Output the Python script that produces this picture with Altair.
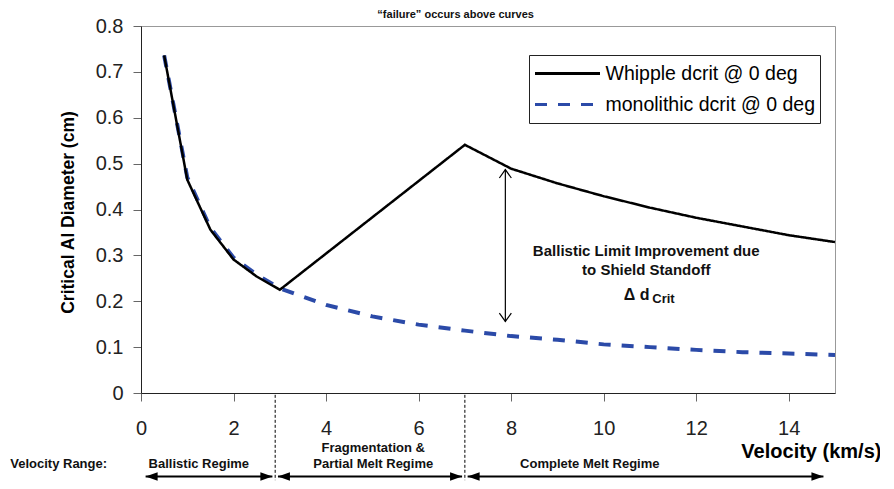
import altair as alt
import pandas as pd

# ---------------- data ----------------
series_names = ["Whipple dcrit @ 0 deg", "monolithic dcrit @ 0 deg"]
series_colors = ["#000000", "#2b4aa8"]

whipple_v = [0.5, 1, 1.5, 2, 2.5, 3, 7, 8, 9, 10, 11, 12, 13, 14, 15]
whipple_d = [0.736, 0.465, 0.356, 0.291, 0.254, 0.225, 0.541, 0.489, 0.457,
             0.429, 0.404, 0.382, 0.363, 0.344, 0.329]

mono_v = [0.5, 1, 1.5, 2, 2.5, 3, 4, 5, 6, 7, 8, 9, 10, 11, 12, 13, 14, 15]
mono_d = [0.736, 0.47, 0.36, 0.295, 0.258, 0.228, 0.192, 0.167, 0.149, 0.136,
          0.124, 0.116, 0.106, 0.100, 0.094, 0.089, 0.086, 0.083]

x_ticks = [0, 2, 4, 6, 8, 10, 12, 14]
y_ticks = [0, 0.1, 0.2, 0.3, 0.4, 0.5, 0.6, 0.7, 0.8]

regime_bounds = [2.9, 7.0]
regime_arrow_from = [0.1, 2.96, 7.06]
regime_arrow_to = [2.84, 6.94, 14.75]
regime_row1 = ["Fragmentation &"]
regime_row1_x = [5.02]
regime_row2 = ["Ballistic Regime", "Partial Melt Regime", "Complete Melt Regime"]
regime_row2_x = [1.25, 5.02, 9.7]

delta_x = 7.875
delta_top = 0.487
delta_bottom = 0.156

note_lines = ["Ballistic Limit Improvement due", "to Shield Standoff"]
note_y = [0.309, 0.268]
note_x = 10.92

FONT = "Liberation Sans"

xs = alt.Scale(domain=[0, 15], nice=False, zero=False)
ys = alt.Scale(domain=[0, 0.8], nice=False, zero=False)

legend = alt.Legend(
    title=None, orient="none", legendX=388, legendY=29,
    symbolType="stroke", symbolSize=4225, symbolStrokeWidth=3,
    clipHeight=28, rowPadding=3, padding=4.5, labelOffset=4,
    labelFont=FONT, labelFontSize=19.5, labelColor="#000000", labelLimit=400,
    strokeColor="#222222", fillColor="#ffffff",
)
color_enc = alt.Color("series:N", scale=alt.Scale(domain=series_names, range=series_colors), legend=legend)
dash_enc = alt.StrokeDash("series:N", scale=alt.Scale(domain=series_names, range=[[1, 0], [12, 11]]), legend=legend)

df_w = pd.DataFrame({"v": whipple_v, "d": whipple_d, "series": series_names[0]})
df_m = pd.DataFrame({"v": mono_v, "d": mono_d, "series": series_names[1]})

x_axis = alt.Axis(values=x_ticks, title=None, grid=False, labelFont=FONT, labelFontSize=20,
                  labelColor="#222222", tickSize=8, tickColor="#666666", labelPadding=17,
                  domainColor="#222222", labelFlush=False)
y_axis = alt.Axis(values=y_ticks, format=".1~f", title="Critical Al Diameter (cm)", grid=False,
                  labelFont=FONT, labelFontSize=20, labelColor="#222222", tickSize=8,
                  tickColor="#666666", labelPadding=10, domainColor="#222222",
                  titleFont=FONT, titleFontSize=17.5, titleFontWeight="bold", titleColor="#000000",
                  titleAngle=270, titleX=-73, titleY=186, titleAlign="center", titleBaseline="middle")


def X(field):
    return alt.X(field, scale=xs, axis=x_axis)


def Y(field):
    return alt.Y(field, scale=ys, axis=y_axis)


mono_line = alt.Chart(df_m).mark_line(strokeWidth=4, strokeCap="butt").encode(
    x=X("v:Q"), y=Y("d:Q"), color=color_enc, strokeDash=dash_enc)
whip_line = alt.Chart(df_w).mark_line(strokeWidth=2.5).encode(
    x=X("v:Q"), y=Y("d:Q"), color=color_enc, strokeDash=dash_enc)

# regime boundaries (below the axis)
df_bounds = pd.DataFrame({"x": regime_bounds, "y": [-0.004] * 2, "y2": [-0.19] * 2})
bounds = alt.Chart(df_bounds).mark_rule(color="#000000", strokeWidth=1, strokeDash=[3, 2]).encode(
    x=X("x:Q"), y=Y("y:Q"), y2="y2:Q")

arrow_y = -0.182
df_arr = pd.DataFrame({"a": regime_arrow_from, "b": regime_arrow_to, "y": [arrow_y] * 3})
arrows = alt.Chart(df_arr).mark_rule(color="#000000", strokeWidth=2).encode(
    x=X("a:Q"), x2="b:Q", y=Y("y:Q"))

shape_scale = alt.Scale(
    domain=["L", "R", "U", "D"],
    range=["M0,0L2,-0.7L2,0.7Z", "M0,0L-2,-0.7L-2,0.7Z", "M-1,1.4L0,0L1,1.4", "M-1,-1.4L0,0L1,-1.4"],
)
df_heads = pd.DataFrame({
    "x": regime_arrow_from + regime_arrow_to,
    "y": [arrow_y] * 6,
    "dir": ["L"] * 3 + ["R"] * 3,
})
heads = alt.Chart(df_heads).mark_point(filled=True, size=144, color="#000000", opacity=1).encode(
    x=X("x:Q"), y=Y("y:Q"), shape=alt.Shape("dir:N", scale=shape_scale, legend=None))

# delta-d double arrow
df_delta = pd.DataFrame({"x": [delta_x], "y": [delta_top], "y2": [delta_bottom]})
delta = alt.Chart(df_delta).mark_rule(color="#000000", strokeWidth=1.2).encode(
    x=X("x:Q"), y=Y("y:Q"), y2="y2:Q")
df_chev = pd.DataFrame({"x": [delta_x, delta_x], "y": [delta_top, delta_bottom], "dir": ["U", "D"]})
chev = alt.Chart(df_chev).mark_point(filled=False, size=144, color="#000000", strokeWidth=1.2, opacity=1).encode(
    x=X("x:Q"), y=Y("y:Q"), shape=alt.Shape("dir:N", scale=shape_scale, legend=None))


def text_layer(xv, yv, tv, size, weight="bold", align="center", color="#111111"):
    df = pd.DataFrame({"x": xv, "y": yv, "t": tv})
    return alt.Chart(df).mark_text(font=FONT, fontSize=size, fontWeight=weight, align=align,
                                   baseline="middle", color=color).encode(
        x=X("x:Q"), y=Y("y:Q"), text="t:N")


t_note = text_layer([note_x] * 2, note_y, note_lines, 15)
t_delta = text_layer([10.99], [0.2144], ["Δ d"], 16, align="right")
t_crit = text_layer([11.05], [0.2055], ["Crit"], 13, align="left")
t_top = text_layer([6.8], [0.825], ["“failure” occurs above curves"], 11)
t_range = text_layer([-1.78], [-0.155], ["Velocity Range:"], 13)
t_row1 = text_layer(regime_row1_x, [-0.119], regime_row1, 13)
t_row2 = text_layer(regime_row2_x, [-0.155] * 3, regime_row2, 13)
t_xtitle = text_layer([14.49], [-0.128], ["Velocity (km/s)"], 20, color="#000000")

chart = alt.layer(
    mono_line, whip_line, bounds, arrows, heads, delta, chev,
    t_note, t_delta, t_crit, t_top, t_range, t_row1, t_row2, t_xtitle,
).properties(
    width=694, height=367,
    autosize=alt.AutoSizeParams(type="none"),
    padding={"left": 133, "top": 18, "right": 45, "bottom": 88},
).configure_view(stroke="#999999", strokeWidth=1)

chart.save("out.html", embed_options={"renderer": "svg", "actions": False})
